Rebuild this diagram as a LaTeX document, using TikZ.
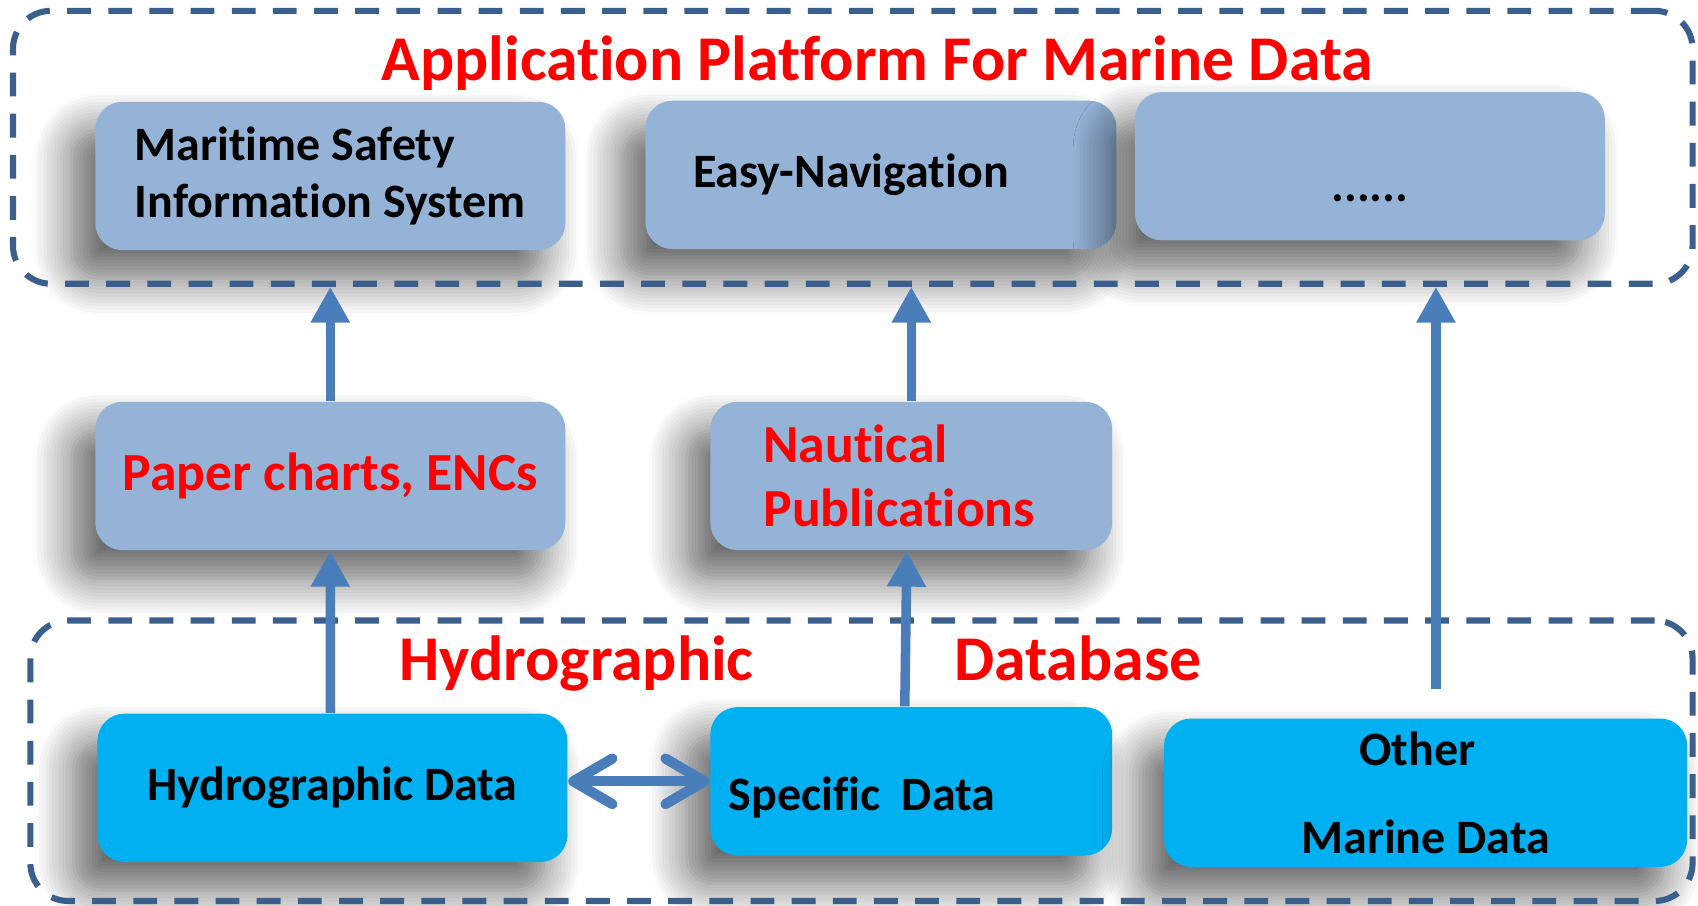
\documentclass[tikz,border=0pt]{standalone}
\usepackage{fontspec}
\setmainfont{Carlito}[Ligatures=NoCommon]
\usepackage{xcolor}
\usetikzlibrary{positioning,calc,arrows.meta,shadows.blur}
\definecolor{boxblue}{HTML}{95B3D7}
\definecolor{datacyan}{HTML}{00B0F0}
\definecolor{framecol}{HTML}{3B5F8C}
\definecolor{arrowcol}{HTML}{4A7EBB}
\tikzset{
    appbox/.style={rectangle, rounded corners=0.25cm, fill=boxblue, minimum width=4.34cm, minimum height=1.37cm,
        font=\bfseries\fontsize{12.6}{15.2}\selectfont,
        blur shadow={shadow xshift=-2.2mm, shadow yshift=-2.6mm, shadow blur radius=3.5mm, shadow blur steps=12, shadow opacity=62}},
    databox/.style={appbox, fill=datacyan},
    redtext/.style={text=red, font=\bfseries\fontsize{14.1}{16.6}\selectfont},
    bigred/.style={text=red, font=\bfseries\fontsize{16.75}{20}\selectfont},
    dashframe/.style={draw=framecol, line width=1.6pt, dash pattern=on 2.2mm off 1.6mm, rounded corners=0.35cm},
    uparrow/.style={draw=arrowcol, line width=2.5pt, -{Triangle[length=3.3mm, width=3.4mm]}},
}
\begin{document}
\begin{tikzpicture}[x=0.1mm, y=-0.1mm]
    \useasboundingbox (0,0) rectangle (1568,836);

    % Application layer
    \node[appbox, align=left] (msis) at (305,162.5) {Maritime Safety\\Information System};
    \node[appbox, text width=3.47cm, inner xsep=0.44cm, align=left] (easynav) at (813.5,161.5) {Easy-Navigation};
    \node[appbox] (more) at (1265,153.5) {\raisebox{-3mm}[\height][\depth]{......}};

    % Products
    \node[appbox, redtext] (paper) at (305,439.5) {Paper charts, ENCs};
    \node[appbox, redtext, minimum width=3.71cm, text width=2.73cm, inner xsep=0.49cm, align=left] (naut) at (841.5,439.5) {Nautical\\Publications};

    % Database
    \node[databox] (hydro) at (307,727.5) {Hydrographic Data};
    \node[databox, minimum width=3.71cm, text width=3.37cm, inner xsep=0.17cm, align=left] (spec) at (841.5,721.5) {\raisebox{-1.5mm}[\height][\depth]{Specific\hspace{2mm}Data}};
    \node[databox, minimum width=4.83cm, align=center] (other) at (1316.5,732) {\hspace*{-1.5mm}Other\\[2.8mm]Marine Data};

    % Frames
    \node[dashframe, minimum width=15.51cm, minimum height=2.52cm] (platform) at (787.5,136) {};
    \node[dashframe, minimum width=15.35cm, minimum height=2.59cm] (database) at (795.5,702.5) {};
    \node[bigred, anchor=base] (title) at (810,74) {Application Platform For Marine Data};
    \node[bigred, anchor=base] (dbleft) at (532.5,628) {Hydrographic};
    \node[bigred, anchor=base] (dbright) at (995.5,628) {Database};

    % Arrows
    \draw[uparrow] ([xshift=-0.02cm]hydro.north) -- (paper.south);
    \draw[uparrow] (paper.north) -- (paper.north |- platform.south);
    \draw[uparrow] ([xshift=-0.06cm]spec.north) -- ([xshift=-0.04cm]naut.south);
    \draw[uparrow] (naut.north) -- (naut.north |- platform.south);
    \coordinate (otherup) at (1326,636);
    \draw[uparrow] (otherup) -- (otherup |- platform.south);
    \draw[arrowcol, line width=2.7pt, {Straight Barb[length=3.6mm, width=4.2mm, round]}-{Straight Barb[length=3.6mm, width=4.2mm, round]}] (hydro.east |- spec.west) -- (spec.west);
\end{tikzpicture}
\end{document}
